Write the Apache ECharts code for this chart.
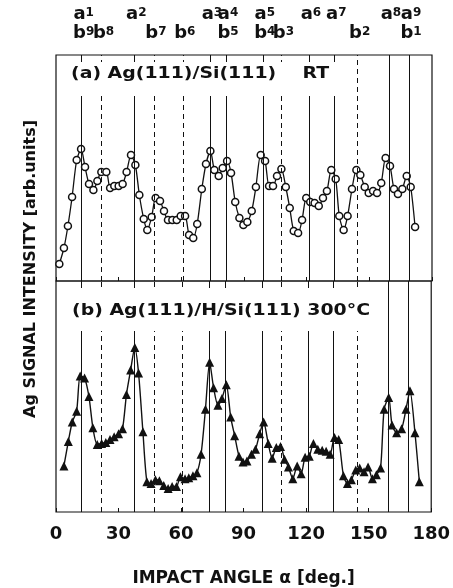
<!DOCTYPE html>
<html>
<head>
<meta charset="utf-8">
<script src="https://cdn.jsdelivr.net/npm/echarts@6/dist/echarts.min.js"></script>
<style>
  html, body { margin: 0; padding: 0; background: #fff; }
  #chart { width: 453px; height: 588px; }
</style>
</head>
<body>
<div id="chart"></div>
<script>
// (a) Ag(111)/Si(111) RT  -- angle [deg], signal [arb.]
var angleA = [1.6, 3.8, 5.7, 7.7, 9.9, 12.0, 13.9, 15.8, 17.9, 19.8, 21.7, 24.1, 25.9, 27.9, 30.0,
  31.9, 33.8, 35.9, 38.0, 39.9, 42.0, 43.7, 45.8, 47.7, 49.8, 51.7, 53.6, 55.7, 57.8, 59.7,
  61.8, 63.7, 65.7, 67.6, 69.8, 71.8, 73.9, 75.8, 77.9, 79.8, 81.9, 83.8, 85.8, 87.8, 89.7,
  91.6, 93.7, 95.7, 98.0, 100.1, 102.0, 103.9, 105.8, 107.9, 110.0, 111.9, 113.8, 115.9, 117.8,
  119.8, 121.7, 123.8, 125.8, 127.8, 129.7, 131.8, 133.9, 135.6, 137.7, 139.6, 141.7, 143.8,
  145.7, 147.8, 149.7, 151.8, 153.7, 155.7, 157.8, 159.9, 161.8, 163.7, 165.8, 167.9, 169.8, 171.9];
var signalA = [17, 33, 55, 84, 121, 132, 114, 97, 91, 100, 109, 109, 93, 95, 95,
  97, 109, 126, 116, 86, 62, 51, 64, 83, 80, 70, 61, 61, 61, 65,
  65, 46, 43, 57, 92, 117, 130, 111, 105, 113, 120, 108, 79, 63, 56,
  59, 70, 94, 126, 120, 95, 95, 105, 112, 94, 73, 50, 48, 61,
  83, 79, 78, 75, 83, 90, 111, 102, 65, 51, 65, 92, 111,
  106, 94, 88, 90, 88, 98, 123, 115, 92, 87, 92, 105, 94, 54];

// (b) Ag(111)/H/Si(111) 300°C
var angleB = [3.8, 5.9, 7.8, 9.9, 11.6, 13.7, 15.8, 17.7, 19.8, 21.9, 23.9, 25.9, 27.9, 30.0,
  31.9, 33.8, 35.8, 37.8, 39.6, 41.7, 43.6, 45.6, 47.7, 49.6, 51.7, 53.8, 55.7, 57.8, 59.7,
  61.9, 63.7, 65.7, 67.6, 69.6, 71.7, 73.7, 75.6, 77.7, 79.6, 81.7, 83.8, 85.7, 87.8, 89.7,
  91.6, 93.8, 95.7, 97.7, 99.6, 101.8, 103.7, 105.7, 107.7, 109.6, 111.5, 113.6, 115.7, 117.6,
  119.5, 121.5, 123.5, 125.6, 127.7, 129.6, 131.5, 133.6, 135.6, 137.9, 139.8, 141.7, 143.8,
  145.7, 147.8, 149.7, 151.8, 153.7, 155.7, 157.4, 159.6, 161.2, 163.4, 165.8, 167.9, 169.8,
  172.2, 174.3];
var signalB = [47, 72, 92, 103, 139, 137, 118, 86, 69, 70, 71, 74, 77, 80,
  85, 120, 145, 168, 142, 82, 31, 29, 33, 32, 27, 24, 26, 26, 36,
  34, 35, 37, 40, 59, 105, 153, 127, 109, 116, 130, 97, 78, 57, 51,
  52, 59, 64, 80, 92, 70, 55, 66, 67, 54, 46, 34, 47, 39,
  56, 57, 70, 64, 63, 62, 59, 76, 74, 37, 29, 33, 43,
  45, 41, 46, 34, 38, 45, 105, 117, 89, 81, 85, 105, 124,
  81, 31];

// peak markers: a = solid lines, b = dashed lines
var aNames = ['a1', 'a2', 'a3', 'a4', 'a5', 'a6', 'a7', 'a8', 'a9'];
var aAngles = [12.3, 37.5, 73.7, 81.4, 99.0, 121.1, 133.2, 159.4, 169.0];
var bNames = ['b9', 'b8', 'b7', 'b6', 'b5', 'b4', 'b3', 'b2', 'b1'];
var bAngles = [12.3, 21.8, 46.9, 60.7, 81.4, 99.0, 107.9, 144.4, 169.0];

var xTicks = [0, 30, 60, 90, 120, 150, 180];

var FONT = 'DejaVu Sans';
var INK = '#111';

function pairs(xs, ys) {
  return xs.map(function (x, i) { return [x, ys[i]]; });
}

function peakLines(withLabels) {
  var data = [];
  aAngles.forEach(function (v, i) {
    data.push({
      xAxis: v, name: aNames[i],
      lineStyle: { type: 'solid' },
      label: { show: withLabels, distance: 32 }
    });
  });
  bAngles.forEach(function (v, i) {
    data.push({
      xAxis: v, name: bNames[i],
      lineStyle: { type: [5, 4] },
      label: { show: withLabels, distance: 13 }
    });
  });
  return {
    silent: true,
    symbol: 'none',
    animation: false,
    lineStyle: { color: INK, width: 1 },
    emphasis: { disabled: true },
    label: {
      show: withLabels,
      position: 'end',
      offset: [2, 0],
      formatter: function (p) {
        return '{l|' + p.name.charAt(0) + '}{n|' + p.name.slice(1) + '}';
      },
      rich: {
        l: { fontFamily: FONT, fontWeight: 'bold', fontSize: 18, color: INK },
        n: { fontFamily: FONT, fontWeight: 'bold', fontSize: 12, color: INK, padding: [0, 0, 3, 0] }
      }
    },
    data: data
  };
}

function xAxisCfg(gridIndex, showLabels) {
  return {
    type: 'value', gridIndex: gridIndex, min: 0, max: 180, interval: 30,
    axisLine: { show: false },
    axisTick: { show: true, inside: true, length: 4, lineStyle: { color: INK } },
    splitLine: { show: false },
    axisLabel: {
      show: showLabels, margin: 13, color: INK,
      fontFamily: FONT, fontWeight: 'bold', fontSize: 18,
      formatter: function (v) { return xTicks.indexOf(v) >= 0 ? String(v) : ''; }
    },
    name: showLabels ? 'IMPACT ANGLE \u03b1 [deg.]' : '',
    nameLocation: 'middle',
    nameGap: 58,
    nameTextStyle: { fontFamily: FONT, fontWeight: 'bold', fontSize: 17, color: INK }
  };
}

var chart = echarts.init(document.getElementById('chart'), null, { renderer: 'canvas' });

chart.setOption({
  animation: false,
  backgroundColor: '#fff',
  grid: [
    { left: 56, right: 21, top: 55, height: 226, show: true, borderColor: INK, borderWidth: 1.2 },
    { left: 56, right: 21, top: 281, height: 236, show: true, borderColor: INK, borderWidth: 1.2 }
  ],
  xAxis: [xAxisCfg(0, false), xAxisCfg(1, true)],
  yAxis: [
    { type: 'value', gridIndex: 0, min: 0, max: 226, show: false },
    { type: 'value', gridIndex: 1, min: 0, max: 236, show: false }
  ],
  series: [
    {
      type: 'line', xAxisIndex: 0, yAxisIndex: 0,
      data: pairs(angleA, signalA),
      smooth: 0.25,
      symbol: 'circle', symbolSize: 7,
      lineStyle: { color: INK, width: 1.3 },
      itemStyle: { color: '#fff', borderColor: INK, borderWidth: 1.5 },
      markLine: peakLines(true)
    },
    {
      type: 'line', xAxisIndex: 1, yAxisIndex: 1,
      data: pairs(angleB, signalB),
      smooth: 0.25,
      symbol: 'triangle', symbolSize: 9,
      lineStyle: { color: INK, width: 1.4 },
      itemStyle: { color: INK, borderColor: INK, borderWidth: 0 },
      markLine: peakLines(false)
    }
  ],
  graphic: [
    // white boxes behind the panel captions (they cut the peak lines)
    { type: 'rect', z: 50, silent: true, shape: { x: 57, y: 62, width: 283, height: 34 }, style: { fill: '#fff' } },
    { type: 'rect', z: 50, silent: true, shape: { x: 57, y: 288, width: 319, height: 43 }, style: { fill: '#fff' } },
    {
      type: 'text', z: 60, x: 71, y: 74, scaleX: 1.26, silent: true,
      style: {
        text: '(a) Ag(111)/Si(111)    RT', fill: INK,
        font: 'bold 15px "DejaVu Sans"', textAlign: 'left', textVerticalAlign: 'middle'
      }
    },
    {
      type: 'text', z: 60, x: 72, y: 311, scaleX: 1.26, silent: true,
      style: {
        text: '(b) Ag(111)/H/Si(111) 300\u00b0C', fill: INK,
        font: 'bold 15px "DejaVu Sans"', textAlign: 'left', textVerticalAlign: 'middle'
      }
    },
    {
      type: 'text', z: 60, x: 31, y: 269, rotation: Math.PI / 2, silent: true,
      style: {
        text: 'Ag SIGNAL INTENSITY [arb.units]', fill: INK,
        font: 'bold 16px "DejaVu Sans"', textAlign: 'center', textVerticalAlign: 'middle'
      }
    }
  ]
});
</script>
</body>
</html>
